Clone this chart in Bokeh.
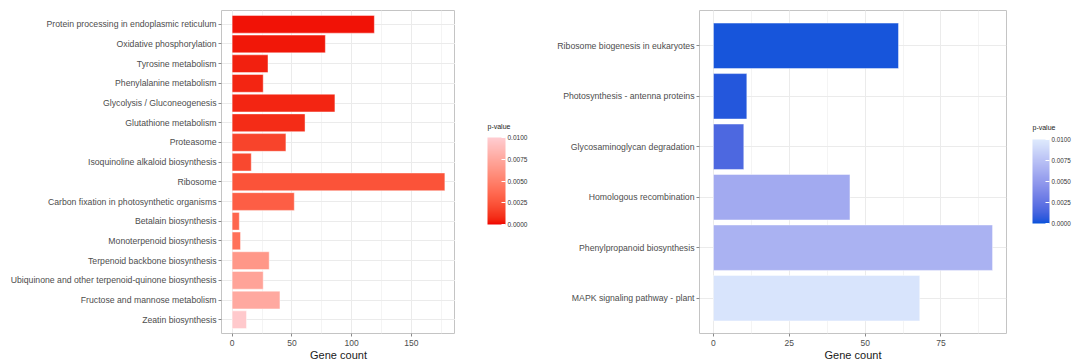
import numpy as np
from bokeh.plotting import figure
from bokeh.models import (ColumnDataSource, FactorRange, Range1d, LinearColorMapper, ColorBar,
                          FixedTicker, SingleIntervalTicker, PrintfTickFormatter, Label)
from bokeh.layouts import row
from bokeh.transform import transform
from bokeh.embed import file_html
from bokeh.resources import INLINE

# ---------------- data ----------------
left_terms = [
    "Protein processing in endoplasmic reticulum",
    "Oxidative phosphorylation",
    "Tyrosine metabolism",
    "Phenylalanine metabolism",
    "Glycolysis / Gluconeogenesis",
    "Glutathione metabolism",
    "Proteasome",
    "Isoquinoline alkaloid biosynthesis",
    "Ribosome",
    "Carbon fixation in photosynthetic organisms",
    "Betalain biosynthesis",
    "Monoterpenoid biosynthesis",
    "Terpenoid backbone biosynthesis",
    "Ubiquinone and other terpenoid-quinone biosynthesis",
    "Fructose and mannose metabolism",
    "Zeatin biosynthesis",
]
left_counts = [119, 78, 30, 26, 86, 61, 45, 16, 178, 52, 6, 7, 31, 26, 40, 12]
left_pvals = [0.0002, 0.0003, 0.0005, 0.0006, 0.0006, 0.0008, 0.0017, 0.0019,
              0.0024, 0.0030, 0.0034, 0.0041, 0.0064, 0.0072, 0.0076, 0.0097]

right_terms = [
    "Ribosome biogenesis in eukaryotes",
    "Photosynthesis - antenna proteins",
    "Glycosaminoglycan degradation",
    "Homologous recombination",
    "Phenylpropanoid biosynthesis",
    "MAPK signaling pathway - plant",
]
right_counts = [61, 11, 10, 45, 92, 68]
right_pvals = [0.0002, 0.0004, 0.0016, 0.0060, 0.0065, 0.0096]

legend_ticks = [0.0, 0.0025, 0.005, 0.0075, 0.01]
legend_title = "p-value"
x_title = "Gene count"

FONT = "Liberation Sans"
H = 363


# ---------------- colour helpers (ggplot-like Lab gradient) ----------------
def _hex2rgb(h):
    h = h.lstrip("#")
    return np.array([int(h[i:i + 2], 16) for i in (0, 2, 4)]) / 255.0


def _rgb2lab(c):
    c = np.where(c > 0.04045, ((c + 0.055) / 1.055) ** 2.4, c / 12.92)
    M = np.array([[0.4124, 0.3576, 0.1805], [0.2126, 0.7152, 0.0722], [0.0193, 0.1192, 0.9505]])
    xyz = M @ c / np.array([0.95047, 1.0, 1.08883])
    f = np.where(xyz > 0.008856, np.cbrt(xyz), 7.787 * xyz + 16 / 116)
    return np.array([116 * f[1] - 16, 500 * (f[0] - f[1]), 200 * (f[1] - f[2])])


def _lab2hex(lab):
    L, a, b = lab
    fy = (L + 16) / 116
    fx = fy + a / 500
    fz = fy - b / 200
    f = np.array([fx, fy, fz])
    xyz = np.where(f ** 3 > 0.008856, f ** 3, (f - 16 / 116) / 7.787) * np.array([0.95047, 1.0, 1.08883])
    Mi = np.array([[3.2406, -1.5372, -0.4986], [-0.9689, 1.8758, 0.0415], [0.0557, -0.2040, 1.0570]])
    c = Mi @ xyz
    c = np.where(c > 0.0031308, 1.055 * np.clip(c, 0, None) ** (1 / 2.4) - 0.055, 12.92 * c)
    c = np.clip(c, 0, 1)
    return "#%02x%02x%02x" % tuple(int(round(v * 255)) for v in c)


def gradient(low, high, n=256):
    a, b = _rgb2lab(_hex2rgb(low)), _rgb2lab(_hex2rgb(high))
    return [_lab2hex(a + (b - a) * t) for t in np.linspace(0, 1, n)]


red_palette = gradient("#F00000", "#FFCDD2")
blue_palette = gradient("#0052DA", "#DEEAFD")


def make_panel(terms, counts, pvals, mapper, width, border_left, border_right, interval):
    src = ColumnDataSource(dict(term=terms, count=counts, p=pvals))
    yr = FactorRange(factors=list(reversed(terms)), range_padding=0.2, range_padding_units="absolute")
    xmax = max(counts)
    xr = Range1d(-0.05 * xmax, 1.05 * xmax)
    p = figure(width=width, height=H, y_range=yr, x_range=xr,
               output_backend="svg", toolbar_location=None,
               min_border_left=border_left, min_border_right=border_right,
               min_border_top=10, min_border_bottom=29)
    p.hbar(y="term", right="count", left=0, height=0.9, source=src,
           fill_color=transform("p", mapper), line_color="white", line_alpha=0.55, line_width=0.8)

    p.background_fill_color = "white"
    p.border_fill_color = "white"
    p.outline_line_color = "#C4C4C4"
    p.outline_line_width = 1

    p.xaxis.ticker = SingleIntervalTicker(interval=interval, num_minor_ticks=2)
    p.xgrid.ticker = p.xaxis.ticker
    p.xgrid.grid_line_color = "#EBEBEB"
    p.xgrid.minor_grid_line_color = "#F4F4F4"
    p.ygrid.grid_line_color = "#EBEBEB"

    for ax in (p.xaxis, p.yaxis):
        ax.axis_line_color = None
        ax.major_tick_line_color = "#8A8A8A"
        ax.major_tick_in = 0
        ax.major_tick_out = 3
        ax.minor_tick_line_color = None
        ax.major_label_text_font = FONT
        ax.major_label_text_color = "#4D4D4D"
    p.yaxis.major_label_text_font_size = "8.7px"
    p.yaxis.major_label_standoff = 2
    p.xaxis.major_label_text_font_size = "8.5px"
    p.xaxis.major_label_standoff = 2
    p.xaxis.axis_label = x_title
    p.xaxis.axis_label_text_font = FONT
    p.xaxis.axis_label_text_font_size = "11px"
    p.xaxis.axis_label_text_font_style = "normal"
    p.xaxis.axis_label_text_color = "#1A1A1A"
    p.xaxis.axis_label_standoff = 0
    return p


def make_legend(mapper, width, bar_x, bar_bottom, bar_w, bar_h, font):
    lg = figure(width=width, height=H, x_range=Range1d(0, width), y_range=Range1d(H, 0),
                x_axis_type=None, y_axis_type=None, output_backend="svg", toolbar_location=None,
                min_border=0, min_border_left=0, min_border_right=0,
                min_border_top=0, min_border_bottom=0)
    lg.outline_line_color = None
    lg.grid.visible = False
    lg.background_fill_color = "white"
    lg.border_fill_color = "white"
    cb = ColorBar(color_mapper=mapper, width=bar_w, height=bar_h, orientation="vertical",
                  ticker=FixedTicker(ticks=legend_ticks),
                  formatter=PrintfTickFormatter(format="%.4f"),
                  major_label_text_font=FONT, major_label_text_font_size=font,
                  major_label_text_color="#333333", label_standoff=2,
                  major_tick_line_color="white", major_tick_in=4, major_tick_out=0,
                  minor_tick_line_color=None, bar_line_color=None,
                  background_fill_alpha=0, border_line_color=None,
                  padding=0, margin=0, location=(bar_x, H - bar_bottom - 32))
    lg.add_layout(cb, "center")
    lg.add_layout(Label(x=bar_x, y=bar_bottom - bar_h - 5, text=legend_title,
                        text_font=FONT, text_font_size="7px", text_color="#1A1A1A",
                        text_align="left", text_baseline="alphabetic"))
    return lg


red_mapper = LinearColorMapper(palette=red_palette, low=0.0, high=0.01)
blue_mapper = LinearColorMapper(palette=blue_palette, low=0.0, high=0.01)

left = make_panel(left_terms, left_counts, left_pvals, red_mapper, 455, 221, 0, 50)
left_legend = make_legend(red_mapper, 85, 32, 222, 18, 87, "6.5px")
right = make_panel(right_terms, right_counts, right_pvals, blue_mapper, 467, 159, 1, 25)
right_legend = make_legend(blue_mapper, 65, 25, 221, 17, 84, "6.3px")

layout = row(left, left_legend, right, right_legend, spacing=0)
open("out.html", "w").write(file_html(layout, INLINE))
